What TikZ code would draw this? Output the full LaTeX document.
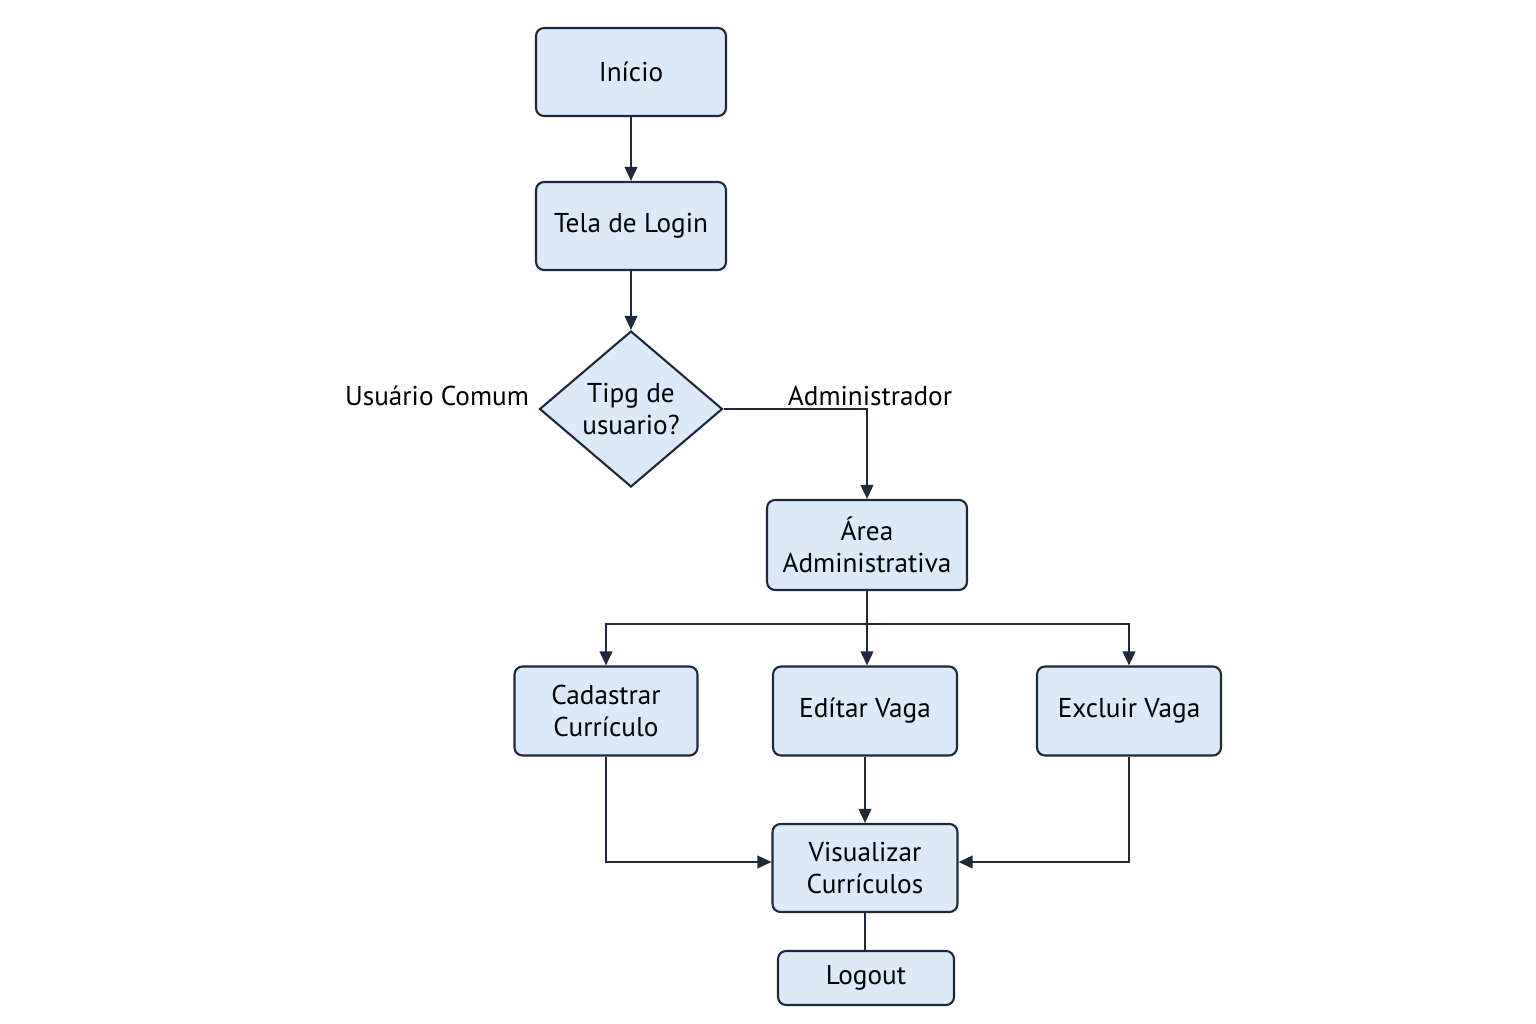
\documentclass[tikz,border=0pt]{standalone}
\usepackage{fontspec}
\setmainfont{PT Sans}
\usetikzlibrary{shapes.geometric,arrows.meta}
\definecolor{boxfill}{HTML}{DCE9F9}
\definecolor{edge}{HTML}{1E293B}
\tikzset{
  px/.style={x=0.02cm,y=-0.02cm},
  txt/.style={font=\fontsize{15.5}{18.5}\selectfont},
  box/.style={draw=edge,fill=boxfill,line width=1.2pt,rounded corners=0.16cm,align=center,inner sep=0pt,txt,text=black},
  dec/.style={draw=edge,fill=boxfill,line width=1.2pt,diamond,shape aspect=1.17,inner sep=0pt,align=center,txt},
  conn/.style={draw=edge,line width=1.2pt,-{Triangle[length=2.8mm,width=2.5mm]}},
  plain/.style={draw=edge,line width=1.2pt},
  lbl/.style={txt,inner sep=0pt}
}
\begin{document}
\begin{tikzpicture}[px]
\useasboundingbox (0,0) rectangle (1536,1024);
\node[box,minimum width=3.8cm,minimum height=1.76cm] (inicio) at (631,72) {Início};
\node[box,minimum width=3.8cm,minimum height=1.76cm] (login) at (631,226) {Tela de Login};
\node[dec,minimum width=3.66cm,minimum height=3.12cm] (tipo) at (631,409) {Tipg de\\usuario?};
\node[box,minimum width=4.0cm,minimum height=1.8cm] (area) at (867,545) {Área\\Administrativa};
\node[box,minimum width=3.66cm,minimum height=1.78cm] (cad) at (606,711) {Cadastrar\\Currículo};
\node[box,minimum width=3.68cm,minimum height=1.78cm] (edit) at (865,711) {Edítar Vaga};
\node[box,minimum width=3.68cm,minimum height=1.78cm] (excl) at (1129,711) {Excluir Vaga};
\node[box,minimum width=3.7cm,minimum height=1.76cm] (vis) at (865,868) {Visualizar\\Currículos};
\node[box,minimum width=3.52cm,minimum height=1.08cm] (logout) at (866,978) {Logout};
\node[lbl] (lcomum) at (437,396) {Usuário Comum};
\node[lbl] (ladmin) at (870,396) {Administrador};
\coordinate (j) at (867,624);
\draw[conn] (inicio) -- (login);
\draw[conn] (login) -- (tipo);
\draw[conn] (tipo.east) -| (area.north);
\draw[plain] (area.south) -- (j);
\draw[conn] (j) -| (cad.north);
\draw[conn] (j) -| (excl.north);
\draw[conn] (j) -- (j|-edit.north);
\draw[conn] (cad.south) |- ([yshift=0.12cm]vis.west);
\draw[conn] (excl.south) |- ([yshift=0.12cm]vis.east);
\draw[conn] (edit.south) -- (vis.north);
\draw[plain] (vis.south) -- (vis.south|-logout.north);
\end{tikzpicture}
\end{document}
